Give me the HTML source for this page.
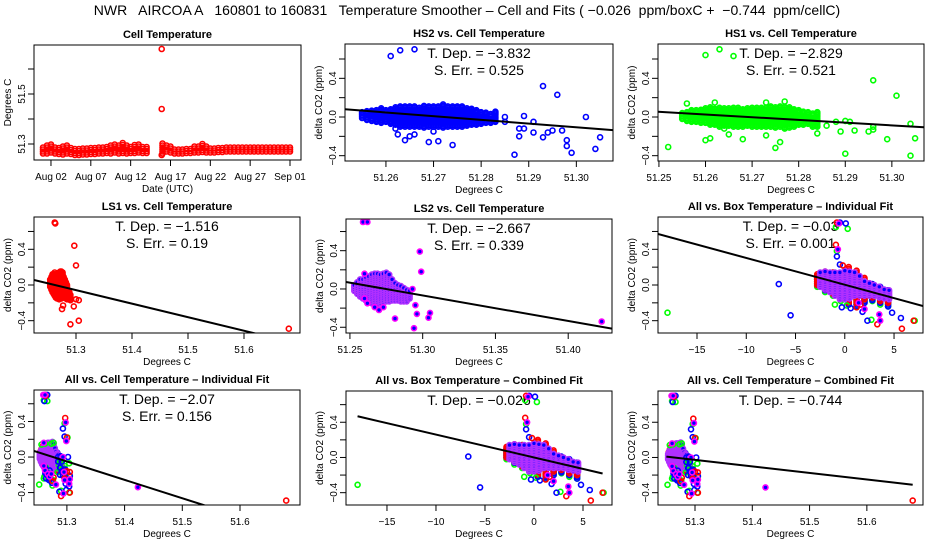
<!DOCTYPE html>
<html><head><meta charset="utf-8"><style>
html,body{margin:0;padding:0;background:#fff;}
svg{display:block;font-family:"Liberation Sans",sans-serif;}
</style></head><body>
<svg id="chart" width="936" height="540" viewBox="0 0 936 540" xmlns="http://www.w3.org/2000/svg">
<rect x="0" y="0" width="936" height="540" fill="#fff"/>
<text x="467" y="15" text-anchor="middle" font-size="14" xml:space="preserve">NWR   AIRCOA A   160801 to 160831   Temperature Smoother – Cell and Fits ( −0.026  ppm/boxC +  −0.744  ppm/cellC)</text>
</svg>
<script>
// ---------- Panel 1: cell temperature time series ----------
const cellT1 = [1,1.5,2,2.5,3,3.5,4,4.5,5,5.5,6,6.5,7,7.5,8,8.5,9,9.5,10,10.5,11,11.5,12,12.5,13,13.5,14];
const cellHi1 = [51.286,51.298,51.300,51.290,51.284,51.290,51.296,51.288,51.282,51.280,51.282,51.284,51.286,51.288,51.290,51.292,51.294,51.296,51.300,51.294,51.304,51.298,51.294,51.296,51.298,51.294,51.290];
const cellLo1 = [51.262,51.262,51.266,51.262,51.260,51.258,51.262,51.260,51.256,51.256,51.258,51.258,51.260,51.260,51.262,51.262,51.264,51.262,51.266,51.262,51.264,51.262,51.264,51.264,51.266,51.264,51.264];
const cellT2 = [16,16.5,17,17.5,18,18.5,19,19.5,20,20.5,21,21.5,22,22.5,23,23.5,24,24.5,25,25.5,26,26.5,27,27.5,28,28.5,29,29.5,30,30.5,31,31.5,32];
const cellHi2 = [51.305,51.300,51.290,51.284,51.282,51.284,51.286,51.286,51.290,51.292,51.300,51.292,51.288,51.286,51.286,51.288,51.290,51.290,51.290,51.288,51.290,51.290,51.290,51.288,51.288,51.290,51.288,51.288,51.288,51.288,51.288,51.288,51.288];
const cellLo2 = [51.262,51.270,51.266,51.262,51.262,51.262,51.264,51.264,51.266,51.266,51.268,51.266,51.266,51.266,51.268,51.268,51.270,51.270,51.270,51.270,51.270,51.270,51.270,51.270,51.270,51.270,51.270,51.270,51.270,51.270,51.270,51.270,51.270];
const cellOutliers = [[15.9,51.68],[15.9,51.44],[15.9,51.256]];
const dateTicks = [2,7,12,17,22,27,32];
const dateTickLabels = ["Aug 02","Aug 07","Aug 12","Aug 17","Aug 22","Aug 27","Sep 01"];

// ---------- sensor vs cell temperature ----------
const hs2BinX = [51.255,51.256,51.257,51.258,51.259,51.260,51.261,51.262,51.263,51.264,51.265,51.266,51.267,51.268,51.269,51.270,51.271,51.272,51.273,51.274,51.275,51.276,51.277,51.278,51.279,51.280,51.281,51.282,51.283];
const hs2Lo = [-0.01,-0.03,-0.04,-0.05,-0.06,-0.05,-0.07,-0.08,-0.1,-0.1,-0.1,-0.1,-0.1,-0.11,-0.1,-0.1,-0.1,-0.11,-0.1,-0.1,-0.1,-0.1,-0.09,-0.08,-0.08,-0.07,-0.06,-0.06,-0.05];
const hs2Hi = [0.05,0.06,0.07,0.08,0.09,0.08,0.09,0.1,0.11,0.12,0.12,0.11,0.1,0.12,0.12,0.11,0.12,0.13,0.12,0.12,0.11,0.12,0.1,0.09,0.07,0.06,0.05,0.04,0.06];
const hs2Out = [[51.261,0.63],[51.263,0.69],[51.266,0.70],[51.262,-0.12],[51.2625,-0.18],[51.264,-0.24],[51.265,-0.2],[51.266,-0.18],[51.269,-0.26],[51.271,-0.25],[51.274,-0.29],[51.270,-0.15],[51.285,0.0],[51.285,-0.05],[51.287,-0.39],[51.288,-0.2],[51.288,-0.12],[51.289,0.01],[51.289,-0.12],[51.291,-0.05],[51.291,-0.16],[51.293,0.32],[51.293,-0.21],[51.294,-0.16],[51.295,-0.14],[51.296,0.23],[51.297,-0.14],[51.298,-0.24],[51.298,-0.3],[51.299,-0.37],[51.302,0.0],[51.304,-0.33],[51.305,-0.21]];

const hs1BinX = [51.255,51.256,51.257,51.258,51.259,51.260,51.261,51.262,51.263,51.264,51.265,51.266,51.267,51.268,51.269,51.270,51.271,51.272,51.273,51.274,51.275,51.276,51.277,51.278,51.279,51.280,51.281,51.282,51.283,51.284];
const hs1Lo = [-0.02,-0.04,-0.05,-0.05,-0.06,-0.06,-0.08,-0.08,-0.1,-0.09,-0.09,-0.1,-0.1,-0.1,-0.09,-0.1,-0.1,-0.1,-0.1,-0.1,-0.11,-0.1,-0.12,-0.11,-0.1,-0.08,-0.08,-0.07,-0.1,-0.1];
const hs1Hi = [0.04,0.06,0.07,0.07,0.08,0.09,0.1,0.09,0.1,0.1,0.09,0.1,0.1,0.09,0.1,0.1,0.1,0.1,0.1,0.11,0.11,0.12,0.11,0.1,0.09,0.07,0.06,0.06,0.04,0.05];
const hs1Out = [[51.252,-0.31],[51.260,0.64],[51.263,0.70],[51.266,0.63],[51.260,-0.24],[51.261,-0.22],[51.256,0.14],[51.262,0.15],[51.264,-0.12],[51.265,-0.18],[51.268,-0.23],[51.273,-0.19],[51.273,0.15],[51.275,-0.32],[51.276,-0.26],[51.277,0.16],[51.284,-0.17],[51.286,-0.09],[51.288,-0.05],[51.289,-0.15],[51.290,-0.38],[51.290,-0.04],[51.291,-0.05],[51.292,-0.14],[51.295,-0.15],[51.296,0.38],[51.296,-0.1],[51.296,-0.13],[51.299,-0.23],[51.301,0.22],[51.304,-0.07],[51.304,-0.4],[51.305,-0.22]];

const ls1BinX = [51.254,51.256,51.258,51.260,51.262,51.264,51.266,51.268,51.270,51.272,51.274,51.276,51.278,51.280,51.282,51.284,51.286,51.288,51.290];
const ls1Lo = [-0.02,-0.05,-0.08,-0.1,-0.12,-0.14,-0.15,-0.15,-0.16,-0.15,-0.15,-0.14,-0.13,-0.14,-0.15,-0.16,-0.16,-0.16,-0.17];
const ls1Hi = [0.06,0.1,0.12,0.13,0.14,0.13,0.12,0.12,0.14,0.16,0.16,0.14,0.1,0.07,0.04,0.0,-0.05,-0.08,-0.1];
const ls1Out = [[51.262,0.70],[51.263,0.69],[51.297,0.44],[51.300,0.22],[51.290,-0.44],[51.305,-0.40],[51.296,-0.24],[51.277,-0.23],[51.275,-0.27],[51.300,-0.16],[51.305,-0.17],[51.680,-0.49]];

const ls2BinX = [51.253,51.255,51.257,51.259,51.261,51.263,51.265,51.267,51.269,51.271,51.273,51.275,51.277,51.279,51.281,51.283,51.285,51.287,51.289,51.291];
const ls2Lo = [-0.02,-0.05,-0.08,-0.1,-0.12,-0.13,-0.15,-0.16,-0.16,-0.15,-0.14,-0.13,-0.13,-0.12,-0.12,-0.12,-0.13,-0.13,-0.13,-0.1];
const ls2Hi = [0.05,0.08,0.1,0.11,0.12,0.13,0.15,0.17,0.17,0.16,0.16,0.17,0.16,0.1,0.07,0.05,0.03,0.02,0.0,-0.02];
const ls2Out = [[51.259,0.70],[51.262,0.70],[51.298,0.39],[51.299,0.18],[51.260,0.16],[51.262,-0.15],[51.260,-0.1],[51.267,-0.19],[51.270,-0.22],[51.273,-0.19],[51.281,-0.31],[51.293,0.0],[51.294,-0.41],[51.295,-0.17],[51.296,-0.26],[51.304,-0.30],[51.305,-0.25],[51.423,-0.34]];

// ---------- all vs box temperature ----------
const boxMagX = [-2.5,-2,-1.5,-1,-0.5,0,0.5,1,1.5,2,2.5,3,3.5,4,4.5];
const boxMagLo = [-0.02,-0.05,-0.08,-0.12,-0.16,-0.16,-0.15,-0.12,-0.12,-0.12,-0.12,-0.12,-0.14,-0.15,-0.16];
const boxMagHi = [0.15,0.16,0.15,0.14,0.15,0.17,0.16,0.15,0.1,0.05,0.02,0.0,-0.02,-0.04,-0.06];
const boxBinX = [-2.8,-2,-1.2,-0.4,0.4,1.2,2,2.8,3.6,4.4];
const boxGreenLo = [-0.02,-0.08,-0.12,-0.18,-0.22,-0.24,-0.2,-0.18,-0.22,-0.24];
const boxGreenHi = [0.08,0.14,0.14,0.1,0.08,0.06,0.02,-0.02,-0.06,-0.1];
const boxRedLo = [0.0,-0.05,-0.1,-0.14,-0.2,-0.2,-0.16,-0.14,-0.18,-0.2];
const boxRedHi = [0.12,0.15,0.14,0.12,0.2,0.16,0.08,0.0,-0.04,-0.08];
const boxBlueLo = [0.0,-0.06,-0.1,-0.15,-0.22,-0.24,-0.2,-0.17,-0.2,-0.24];
const boxBlueHi = [0.1,0.12,0.12,0.1,0.06,0.05,0.02,0.02,-0.02,-0.06];
const boxGreenOut = [[-18,-0.31],[0.3,0.63],[-0.9,0.65],[-1.0,-0.22],[0.2,-0.23],[2.7,-0.39],[7.1,-0.4],[-0.8,0.38]];
const boxBlueOut = [[-6.7,0.01],[-5.5,-0.34],[-0.5,0.70],[0.1,0.69],[-0.8,0.32],[-0.5,0.23],[5.7,-0.37],[4.8,-0.31],[2.3,-0.4],[-0.3,-0.25],[0.6,-0.26],[1.8,-0.3]];
const boxRedOut = [[-0.8,0.70],[-0.9,0.45],[-0.2,0.22],[1.6,-0.22],[7.0,-0.4],[5.8,-0.49],[3.3,-0.44],[1.2,-0.25]];
const boxMagOut = [[-0.6,0.69],[-0.7,0.40],[3.5,-0.33],[3.6,-0.4],[2.0,-0.27],[1.4,-0.2]];

// ---------- fits ----------
const fitSlopes = [-3.832,-2.829,-1.516,-2.667,-0.03,-2.07,-0.026,-0.744];
const fitStatDep = ["−3.832","−2.829","−1.516","−2.667","−0.03","−2.07","−0.026","−0.744"];
const fitStatErr = ["0.525","0.521","0.19","0.339","0.001","0.156",null,null];

const yTicks = [-0.4,-0.2,0,0.2,0.4,0.6];
const yTickLabels = ["−0.4","","0.0","","0.4",""];

const RED="#ff0000", GREEN="#00ff00", BLUE="#0000ff", MAG="#ff00ff", PURPLE="#b030ff";
const NS="http://www.w3.org/2000/svg";
const svg=document.getElementById('chart');
function el(tag,parent){const e=document.createElementNS(NS,tag);parent.appendChild(e);return e;}

const panels=[
 {name:"cell-temperature-panel",title:"Cell Temperature",box:[34,45,301,160],xlim:[-0.13,33.38],ylim:[51.236,51.696],xt:dateTicks,xtl:dateTickLabels,yt:[51.3,51.4,51.5,51.6],ytl:["51.3","","51.5",""],xlab:"Date (UTC)",ylab:"Degrees C"},
 {name:"hs2-panel",title:"HS2 vs. Cell Temperature",box:[345,44,613,161],xlim:[51.2514,51.3077],ylim:[-0.455,0.755],xt:[51.26,51.27,51.28,51.29,51.30],xtl:["51.26","51.27","51.28","51.29","51.30"],fit:0,fx0:51.2514,fy0:0.08,full:true},
 {name:"hs1-panel",title:"HS1 vs. Cell Temperature",box:[658,44,924,161],xlim:[51.2498,51.3069],ylim:[-0.455,0.755],xt:[51.25,51.26,51.27,51.28,51.29,51.30],xtl:["51.25","51.26","51.27","51.28","51.29","51.30"],fit:1,fx0:51.2498,fy0:0.055,full:true},
 {name:"ls1-panel",title:"LS1 vs. Cell Temperature",box:[34,217,300,333],xlim:[51.225,51.7],ylim:[-0.538,0.762],xt:[51.3,51.4,51.5,51.6],xtl:["51.3","51.4","51.5","51.6"],fit:2,fx0:51.225,fy0:0.056,full:true},
 {name:"ls2-panel",title:"LS2 vs. Cell Temperature",box:[346,219,612,333],xlim:[51.2473,51.4301],ylim:[-0.46,0.731],xt:[51.25,51.30,51.35,51.40],xtl:["51.25","51.30","51.35","51.40"],fit:3,fx0:51.2473,fy0:0.073,full:true},
 {name:"all-box-individual-panel",title:"All vs. Box Temperature – Individual Fit",box:[658,217,923,333],xlim:[-18.96,7.94],ylim:[-0.538,0.762],xt:[-15,-10,-5,0,5],xtl:["−15","−10","−5","0","5"],fit:4,fx0:0,fy0:0.003,full:true},
 {name:"all-cell-individual-panel",title:"All vs. Cell Temperature – Individual Fit",box:[34,390,300,505],xlim:[51.243,51.704],ylim:[-0.54,0.755],xt:[51.3,51.4,51.5,51.6],xtl:["51.3","51.4","51.5","51.6"],fit:5,fx0:51.243,fy0:0.068,full:true},
 {name:"all-box-combined-panel",title:"All vs. Box Temperature – Combined Fit",box:[346,391,612,505],xlim:[-19.18,7.96],ylim:[-0.54,0.755],xt:[-15,-10,-5,0,5],xtl:["−15","−10","−5","0","5"],fit:6,fx0:0,fy0:0.0,full:false,fr:[-18,7]},
 {name:"all-cell-combined-panel",title:"All vs. Cell Temperature – Combined Fit",box:[658,391,923,505],xlim:[51.2354,51.698],ylim:[-0.54,0.755],xt:[51.3,51.4,51.5,51.6],xtl:["51.3","51.4","51.5","51.6"],fit:7,fx0:51.25,fy0:0.01,full:false,fr:[51.25,51.68]}
];

function dot(g,x,y,color,fill){
  const c=el('circle',g);
  
  
  c.setAttribute('cx',x.toFixed(1));c.setAttribute('cy',y.toFixed(1));c.setAttribute('r','2.5');
  c.setAttribute('fill',fill||'none');c.setAttribute('stroke',color);c.setAttribute('stroke-width','1.6');
}
function cluster(g,P,xs,lo,hi,step,color,fill){
  const n=Math.min(xs.length,lo.length,hi.length);
  for(let i=0;i<n;i++){
    for(let v=lo[i];v<=hi[i]+1e-9;v+=step){dot(g,P.sx(xs[i]),P.sy(v),color,fill);}
  }
}
function outs(g,P,arr,color,fill){arr.forEach(p=>dot(g,P.sx(p[0]),P.sy(p[1]),color,fill));}

panels.forEach((p,idx)=>{
  const [x0,y0,x1,y1]=p.box;
  p.sx=v=>x0+(v-p.xlim[0])/(p.xlim[1]-p.xlim[0])*(x1-x0);
  p.sy=v=>y1-(v-p.ylim[0])/(p.ylim[1]-p.ylim[0])*(y1-y0);
  const g=el('g',svg);
  
  
  const cp=el('clipPath',g);cp.setAttribute('id','clip'+idx);
  const cr=el('rect',cp);cr.setAttribute('x',x0);cr.setAttribute('y',y0);cr.setAttribute('width',x1-x0);cr.setAttribute('height',y1-y0);
  const t=el('text',g);
  
  
  t.setAttribute('x',(x0+x1)/2);t.setAttribute('y',y0-7);t.setAttribute('text-anchor','middle');t.setAttribute('font-size','11');t.setAttribute('font-weight','bold');t.textContent=p.title;
  const ax=el('g',g);
  
  
  p.xt.forEach((v,i)=>{
    const X=p.sx(v);
    const l=el('line',ax);
    
    
    l.setAttribute('x1',X);l.setAttribute('x2',X);l.setAttribute('y1',y1);l.setAttribute('y2',y1+6);l.setAttribute('stroke','#000');
    const tx=el('text',ax);
    
    
    tx.setAttribute('x',X);tx.setAttribute('y',y1+20);tx.setAttribute('text-anchor','middle');tx.setAttribute('font-size','10');tx.textContent=p.xtl[i];
  });
  const xl=el('text',ax);
  
  
  xl.setAttribute('x',(x0+x1)/2);xl.setAttribute('y',y1+32);xl.setAttribute('text-anchor','middle');xl.setAttribute('font-size','10');xl.textContent=p.xlab||"Degrees C";
  const ay=el('g',g);
  
  
  const yt=p.yt||yTicks, ytl=p.ytl||yTickLabels;
  yt.forEach((v,i)=>{
    const Y=p.sy(v);
    const l=el('line',ay);
    
    
    l.setAttribute('x1',x0-6);l.setAttribute('x2',x0);l.setAttribute('y1',Y);l.setAttribute('y2',Y);l.setAttribute('stroke','#000');
    if(ytl[i]){
      const tx=el('text',ay);
      
      
      tx.setAttribute('transform','translate('+(x0-9)+','+Y+') rotate(-90)');tx.setAttribute('text-anchor','middle');tx.setAttribute('font-size','10');tx.textContent=ytl[i];
    }
  });
  const yl=el('text',ay);
  
  
  yl.setAttribute('transform','translate('+(x0-23)+','+((y0+y1)/2)+') rotate(-90)');yl.setAttribute('text-anchor','middle');yl.setAttribute('font-size','10');yl.textContent=p.ylab||"delta CO2 (ppm)";
  if(p.fit!==undefined){
    const s1=el('text',g);
    
    
    s1.setAttribute('x',(x0+x1)/2);s1.setAttribute('y',y0+14);s1.setAttribute('text-anchor','middle');s1.setAttribute('font-size','14');s1.setAttribute('xml:space','preserve');s1.textContent='T. Dep. =  '+fitStatDep[p.fit];
    if(fitStatErr[p.fit]){
      const s2=el('text',g);
      
      
      s2.setAttribute('x',(x0+x1)/2);s2.setAttribute('y',y0+31);s2.setAttribute('text-anchor','middle');s2.setAttribute('font-size','14');s2.setAttribute('xml:space','preserve');s2.textContent='S. Err. =  '+fitStatErr[p.fit];
    }
  }
  const d=el('g',g);
  
  
  d.setAttribute('clip-path','url(#clip'+idx+')');
  if(idx===0){
    cluster(d,p,cellT1,cellLo1,cellHi1,0.008,RED);
    cluster(d,p,cellT2,cellLo2,cellHi2,0.008,RED);
    outs(d,p,cellOutliers,RED);
  } else if(idx===1){cluster(d,p,hs2BinX,hs2Lo,hs2Hi,0.015,BLUE);outs(d,p,hs2Out,BLUE);}
  else if(idx===2){cluster(d,p,hs1BinX,hs1Lo,hs1Hi,0.015,GREEN);outs(d,p,hs1Out,GREEN);}
  else if(idx===3){cluster(d,p,ls1BinX,ls1Lo,ls1Hi,0.02,RED);outs(d,p,ls1Out,RED);}
  else if(idx===4){cluster(d,p,ls2BinX,ls2Lo,ls2Hi,0.02,PURPLE,BLUE);outs(d,p,ls2Out,MAG,BLUE);}
  else if(idx===5||idx===7){
    cluster(d,p,boxBinX,boxGreenLo,boxGreenHi,0.02,GREEN);
    cluster(d,p,boxBinX,boxBlueLo,boxBlueHi,0.02,BLUE);
    cluster(d,p,boxBinX,boxRedLo,boxRedHi,0.02,RED);
    cluster(d,p,boxMagX,boxMagLo,boxMagHi,0.02,PURPLE,BLUE);
    outs(d,p,boxGreenOut,GREEN);outs(d,p,boxBlueOut,BLUE);outs(d,p,boxRedOut,RED);outs(d,p,boxMagOut,MAG,BLUE);
  } else {
    cluster(d,p,hs1BinX,hs1Lo,hs1Hi,0.02,GREEN);
    cluster(d,p,hs2BinX,hs2Lo,hs2Hi,0.02,BLUE);
    cluster(d,p,ls1BinX,ls1Lo,ls1Hi,0.02,RED);
    cluster(d,p,ls2BinX,ls2Lo,ls2Hi,0.02,PURPLE,BLUE);
    outs(d,p,hs1Out,GREEN);outs(d,p,hs2Out,BLUE);outs(d,p,ls1Out,RED);outs(d,p,ls2Out,MAG,BLUE);
  }
  if(p.fit!==undefined){
    const b=fitSlopes[p.fit];
    const xa=p.full?p.xlim[0]:p.fr[0], xb=p.full?p.xlim[1]:p.fr[1];
    const fl=el('line',d);
    
    
    fl.setAttribute('x1',p.sx(xa));fl.setAttribute('y1',p.sy(p.fy0+b*(xa-p.fx0)));
    fl.setAttribute('x2',p.sx(xb));fl.setAttribute('y2',p.sy(p.fy0+b*(xb-p.fx0)));
    fl.setAttribute('stroke','#000');fl.setAttribute('stroke-width','2');
  }
  const fr=el('rect',g);
  
  
  fr.setAttribute('x',x0);fr.setAttribute('y',y0);fr.setAttribute('width',x1-x0);fr.setAttribute('height',y1-y0);fr.setAttribute('fill','none');fr.setAttribute('stroke','#000');
});
</script>
</body></html>
